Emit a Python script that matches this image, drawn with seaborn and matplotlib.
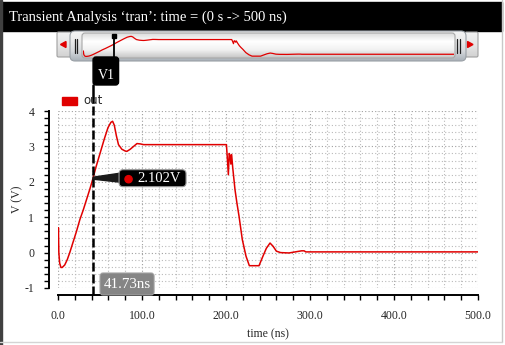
import numpy as np
import pandas as pd
import seaborn as sns
import matplotlib
matplotlib.use("Agg")
import matplotlib.pyplot as plt
from matplotlib.patches import FancyBboxPatch, Rectangle, Circle, Polygon
from matplotlib.colors import LinearSegmentedColormap
from matplotlib.ticker import MultipleLocator, FormatStrFormatter

# ---------------- data ----------------
t_ns = [0, 0.5, 1, 2, 3.5, 5, 8, 11, 14, 18, 22, 26, 30, 34, 38, 41.73, 45, 50, 55,
        59.5, 63, 65, 67, 69.5, 72, 76, 80, 82, 86, 90, 94, 98, 102, 150, 200.5,
        201.5, 202.8, 203.8, 204.8, 205.8, 206.7, 208, 210.7, 213, 215.5, 219.4,
        223.8, 227.8, 233, 239.3, 244, 248, 252.4, 256, 260, 265, 275, 285, 290,
        293, 295, 350, 400, 500]
v_out = [0.3, 0.7, 0.0, -0.3, -0.42, -0.42, -0.35, -0.2, 0.0, 0.3, 0.6, 0.93, 1.2,
         1.5, 1.8, 2.102, 2.4, 2.8, 3.2, 3.53, 3.68, 3.71, 3.6, 3.3, 3.05, 2.92,
         2.87, 2.86, 2.92, 3.0, 3.08, 3.07, 3.05, 3.05, 3.05, 2.7, 2.2, 2.8, 2.75,
         2.5, 2.77, 2.4, 1.78, 1.4, 1.03, 0.37, -0.1, -0.37, -0.37, -0.37, -0.1,
         0.12, 0.27, 0.18, 0.04, 0.0, -0.01, 0.03, 0.05, 0.05, 0.02, 0.02, 0.02, 0.02]
series_name = "out"
cursor_name = "V1"
cursor_t = 41.73
cursor_v = 2.102
cursor_v_label = "2.102V"
cursor_t_label = "41.73ns"
title = "Transient Analysis \u2018tran\u2019: time = (0 s -> 500 ns)"
x_label = "time (ns)"
y_label = "V (V)"
x_limits = (0, 500)
y_limits = (-1, 4)

RED = "#e00000"

sns.set_style("white")
plt.rcParams['font.family'] = ['Liberation Serif', 'DejaVu Serif']
plt.rcParams['axes.unicode_minus'] = False

W, H = 506, 345
fig = plt.figure(figsize=(W / 100, H / 100), dpi=100)
fig.patch.set_facecolor("white")


def px_rect(x0, y0, x1, y1):
    return [x0 / W, 1 - y1 / H, (x1 - x0) / W, (y1 - y0) / H]


def overlay(z):
    a = fig.add_axes([0, 0, 1, 1], zorder=z)
    a.patch.set_alpha(0)
    a.axis('off')
    return a


def grad_box(a, x0, y0, x1, y1, colors, r, edge, z):
    patch = FancyBboxPatch((x0, y0), x1 - x0, y1 - y0,
                           boxstyle=f"round,pad=0,rounding_size={r}",
                           fc='none', ec=edge, lw=0.8, zorder=z + 0.1)
    a.add_patch(patch)
    cmap = LinearSegmentedColormap.from_list('g', colors)
    grad = np.linspace(0, 1, 64).reshape(-1, 1)
    im = a.imshow(grad, cmap=cmap, extent=(x0, x1, y1, y0), aspect='auto',
                  zorder=z, interpolation='bilinear')
    im.set_clip_path(patch)


# ---------------- background overlay (frame, title bar, scroll bar) -------------
bg = overlay(0)
bg.add_patch(Rectangle((0, 2), 502, 29, color="black", zorder=1))
bg.add_patch(Rectangle((0, 0), 2, H, color="#404040", zorder=1))
bg.plot([502.5, 502.5], [0, 342], color="#c8c8c8", lw=1)
bg.plot([0, 502.5], [341.5, 341.5], color="#d4d4d4", lw=1)
bg.text(9, 17, title, color="white", fontsize=10.5, va="center", ha="left")

# arrow boxes
for (x0, x1, tri) in [(57, 71, [(60.5, 44.5), (66, 41.5), (66, 47.5)]),
                      (465, 478, [(473, 44.5), (467.5, 41.5), (467.5, 47.5)])]:
    grad_box(bg, x0, 32, x1, 57, ['#f2f2f2', '#e6e6e6', '#d2d2d2'], 1.5, '#a0a0a0', 2)
    bg.add_patch(Polygon(tri, closed=True, color=RED, zorder=3))
# thumb
grad_box(bg, 70, 31, 466, 61, ['#f4f4f4', '#ebebeb', '#d6d9dc', '#a9b1b9'], 5, '#9aa0a6', 4)
for hx in (75.0, 77.5, 457.5, 460.0):
    bg.plot([hx, hx], [39, 53], color="#202020", lw=0.9, zorder=6)
# inner track
grad_box(bg, 82, 33, 455, 58, ['#dcdcdc', '#ffffff', '#f2f2f2', '#c6c6c6'], 3, '#a8a8a8', 7)
bg.set_xlim(0, W)
bg.set_ylim(H, 0)

# ---------------- main axes ----------------
ax = fig.add_axes(px_rect(58, 111, 478, 288), zorder=1)
df = pd.DataFrame({"time": t_ns, series_name: v_out})
sns.lineplot(data=df, x="time", y=series_name, ax=ax, color=RED, lw=1.1,
             estimator=None, sort=False, legend=False)
ax.set_xlim(*x_limits)
ax.set_ylim(*y_limits)
ax.xaxis.set_major_locator(MultipleLocator(100))
ax.xaxis.set_minor_locator(MultipleLocator(20))
ax.xaxis.set_major_formatter(FormatStrFormatter('%.1f'))
ax.yaxis.set_major_locator(MultipleLocator(1))
ax.yaxis.set_minor_locator(MultipleLocator(0.2))
ax.grid(which='major', color='#a0a0a0', ls=(0, (1, 2)), lw=0.8)
ax.grid(which='minor', color='#bababa', ls=(0, (1, 2)), lw=0.8)
ax.set_axisbelow(True)
sns.despine(ax=ax)
ax.spines['left'].set_position(('outward', 6.5))
ax.spines['bottom'].set_position(('outward', 5))
for s in ('left', 'bottom'):
    ax.spines[s].set_linewidth(1.4)
    ax.spines[s].set_color('black')
ax.tick_params(axis='both', which='both', direction='out', length=3.6, width=1.0,
               color='black', labelsize=8.5, bottom=True, left=True,
               top=False, right=False)
ax.tick_params(axis='y', pad=7)
ax.tick_params(axis='x', pad=7.5)
ax.set_xlabel(x_label, fontsize=8.5, labelpad=4.5)
ax.set_ylabel(y_label, fontsize=8.5, labelpad=1)

# cursor line
ax.axvline(cursor_t, ymin=-7 / 177, ymax=(288 - 97) / 177, color='black', lw=1.8,
           ls=(0, (3.6, 1.2)), clip_on=False, zorder=5)
ax.axvline(cursor_t, ymin=(288 - 97) / 177, ymax=(288 - 85) / 177, color='black',
           lw=1.8, clip_on=False, zorder=5)

# ---------------- overview axes ----------------
ov = fig.add_axes(px_rect(83, 33, 454, 58), zorder=2)
ov.patch.set_alpha(0)
sns.lineplot(data=df, x="time", y=series_name, ax=ov, color=RED, lw=0.9,
             estimator=None, sort=False, legend=False)
ov.set_xlim(*x_limits)
ov.set_ylim(-0.75, 4.4)
ov.axis('off')
ov.axvline(cursor_t, ymin=-0.05, ymax=0.9, color='black', lw=1.3, clip_on=False)
ov.plot([cursor_t], [0.9], marker='s', ms=3, color='black',
        transform=ov.get_xaxis_transform(), clip_on=False)

# ---------------- foreground overlay (legend, cursor labels) ----------------
fg = overlay(3)
fg.set_xlim(0, W)
fg.set_ylim(H, 0)
# legend
fg.add_patch(Rectangle((62, 96.5), 15, 8, color=RED))
fg.text(83, 100.5, series_name, fontsize=8.5, va='center', ha='left', family='DejaVu Sans')

fig.canvas.draw()
cx, cy = ax.transData.transform((cursor_t, cursor_v))
cy = H - cy
# V1 box
fg.add_patch(FancyBboxPatch((cx, 57), 25.5, 28, boxstyle="round,pad=0,rounding_size=3",
                            fc='black', ec='black', zorder=4))
fg.text(cx + 12.8, 75.5, cursor_name, color='white', fontsize=10, ha='center', va='center', zorder=5)
# value marker box
fg.add_patch(Polygon([(cx, cy - 1), (cx, cy + 1), (cx + 27, cy + 4), (cx + 27, cy - 5)],
                     closed=True, color='#1a1a1a', zorder=4))
fg.add_patch(FancyBboxPatch((cx + 26, cy - 8.5), 67, 17, boxstyle="round,pad=0,rounding_size=4",
                            fc='black', ec='#9a9a9a', lw=0.8, zorder=5))
fg.add_patch(Circle((cx + 35.5, cy + 1), 3.6, color=RED, zorder=6))
fg.text(cx + 44, cy, cursor_v_label, color='white', fontsize=10.5, ha='left', va='center', zorder=6)
# time box
fg.add_patch(FancyBboxPatch((cx + 7, 273), 54, 22, boxstyle="round,pad=0,rounding_size=3",
                            fc='#858585', ec='#a0a0a0', lw=0.8, zorder=4))
fg.text(cx + 34, 284, cursor_t_label, color='white', fontsize=10.8, ha='center', va='center', zorder=5)

fig.savefig("out.png", dpi=100)
